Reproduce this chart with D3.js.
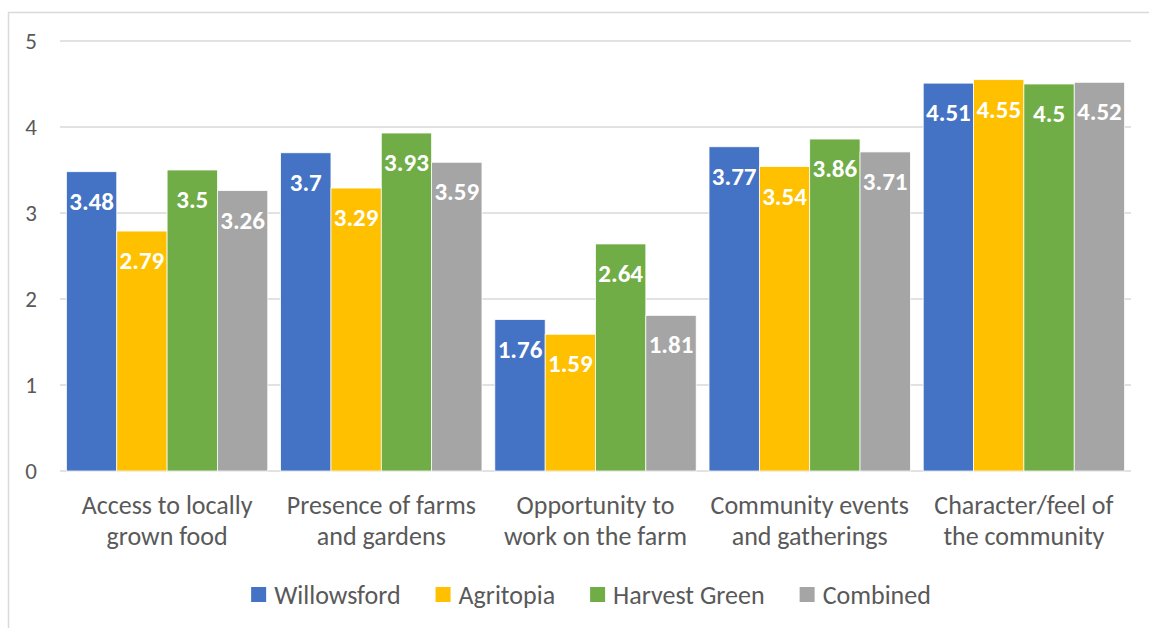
<!DOCTYPE html>
<html>
<head>
<meta charset="utf-8">
<script src="https://cdn.jsdelivr.net/npm/d3@7"></script>
<style>
  body { margin: 0; background: #fff; }
  text { font-family: Carlito, Lato, "Open Sans", sans-serif; }
</style>
</head>
<body>
<div id="container"></div>
<script>
const width = 1149;
const height = 628;

const categories = [
    ['Access to locally', 'grown food'],
    ['Presence of farms', 'and gardens'],
    ['Opportunity to', 'work on the farm'],
    ['Community events', 'and gatherings'],
    ['Character/feel of', 'the community']
];
const seriesNames = ['Willowsford', 'Agritopia', 'Harvest Green', 'Combined'];
const seriesColors = ['#4472c4', '#ffc000', '#70ad47', '#a5a5a5'];

const willowsford = [3.48, 3.7, 1.76, 3.77, 4.51];
const agritopia = [2.79, 3.29, 1.59, 3.54, 4.55];
const harvestGreen = [3.5, 3.93, 2.64, 3.86, 4.5];
const combined = [3.26, 3.59, 1.81, 3.71, 4.52];
const yTicks = [0, 1, 2, 3, 4, 5];

const seriesValues = [willowsford, agritopia, harvestGreen, combined];

const margin = { left: 60, right: 18, top: 41, bottom: 157 };

const svg = d3.select('#container').append('svg')
    .attr('width', width)
    .attr('height', height)
    .attr('viewBox', `0 0 ${width} ${height}`);

// chart frame (runs off the right and bottom edge like the screenshot)
svg.append('rect')
    .attr('x', 8.5)
    .attr('y', 12.5)
    .attr('width', 1200)
    .attr('height', 700)
    .attr('fill', 'none')
    .attr('stroke', '#d9d9d9')
    .attr('stroke-width', 1.5);

const catKeys = categories.map((c, i) => i);

const x0 = d3.scaleBand()
    .domain(catKeys)
    .range([margin.left, width - margin.right])
    .paddingInner(0.06)
    .paddingOuter(0.03);

const x1 = d3.scaleBand()
    .domain(seriesNames)
    .range([0, x0.bandwidth()]);

const y = d3.scaleLinear()
    .domain([0, 5])
    .range([height - margin.bottom, margin.top]);

// gridlines
svg.append('g')
    .selectAll('line')
    .data(yTicks)
    .join('line')
    .attr('x1', margin.left)
    .attr('x2', width - margin.right)
    .attr('y1', d => y(d))
    .attr('y2', d => y(d))
    .attr('stroke', '#d9d9d9')
    .attr('stroke-width', 1.5);

// y labels
svg.append('g')
    .selectAll('text')
    .data(yTicks)
    .join('text')
    .attr('x', 37)
    .attr('y', d => y(d))
    .attr('dy', '0.36em')
    .attr('text-anchor', 'end')
    .attr('font-size', 23)
    .attr('fill', '#595959')
    .text(d => d);

const rows = [];
catKeys.forEach(ci => {
    seriesNames.forEach((s, si) => {
        rows.push({ cat: ci, series: s, value: seriesValues[si][ci], color: seriesColors[si] });
    });
});

const bar = svg.append('g')
    .selectAll('g')
    .data(rows)
    .join('g');

bar.append('rect')
    .attr('x', d => x0(d.cat) + x1(d.series))
    .attr('y', d => y(d.value))
    .attr('width', x1.bandwidth())
    .attr('height', d => y(0) - y(d.value))
    .attr('fill', d => d.color)
    .attr('stroke', '#ffffff')
    .attr('stroke-width', 0.75);

bar.append('text')
    .attr('x', d => x0(d.cat) + x1(d.series) + x1.bandwidth() / 2)
    .attr('y', d => y(d.value) + 29)
    .attr('dy', '0.36em')
    .attr('text-anchor', 'middle')
    .attr('font-size', 25)
    .attr('font-weight', 'bold')
    .attr('fill', '#ffffff')
    .text(d => d.value);

// category labels
const catLabel = svg.append('g')
    .selectAll('text')
    .data(categories)
    .join('text')
    .attr('x', (d, i) => x0(i) + x0.bandwidth() / 2)
    .attr('y', 514)
    .attr('text-anchor', 'middle')
    .attr('font-size', 26)
    .attr('fill', '#595959');

catLabel.selectAll('tspan')
    .data(d => d)
    .join('tspan')
    .attr('x', function() { return d3.select(this.parentNode).attr('x'); })
    .attr('dy', (d, i) => i === 0 ? 0 : 31)
    .text(d => d);

// legend, laid out from measured text widths and centred under the plot
const legend = svg.append('g');
const items = legend.selectAll('g')
    .data(seriesNames)
    .join('g');

items.append('rect')
    .attr('x', 0)
    .attr('y', -7.5)
    .attr('width', 15)
    .attr('height', 15)
    .attr('fill', (d, i) => seriesColors[i]);

items.append('text')
    .attr('x', 23)
    .attr('dy', '0.36em')
    .attr('font-size', 26)
    .attr('fill', '#595959')
    .text(d => d);

let cursor = 0;
items.each(function() {
    const g = d3.select(this);
    g.attr('transform', `translate(${cursor},0)`);
    cursor += 23 + g.select('text').node().getComputedTextLength() + 35;
});
const legendWidth = cursor - 35;
legend.attr('transform', `translate(${591 - legendWidth / 2},594.5)`);
</script>
</body>
</html>
